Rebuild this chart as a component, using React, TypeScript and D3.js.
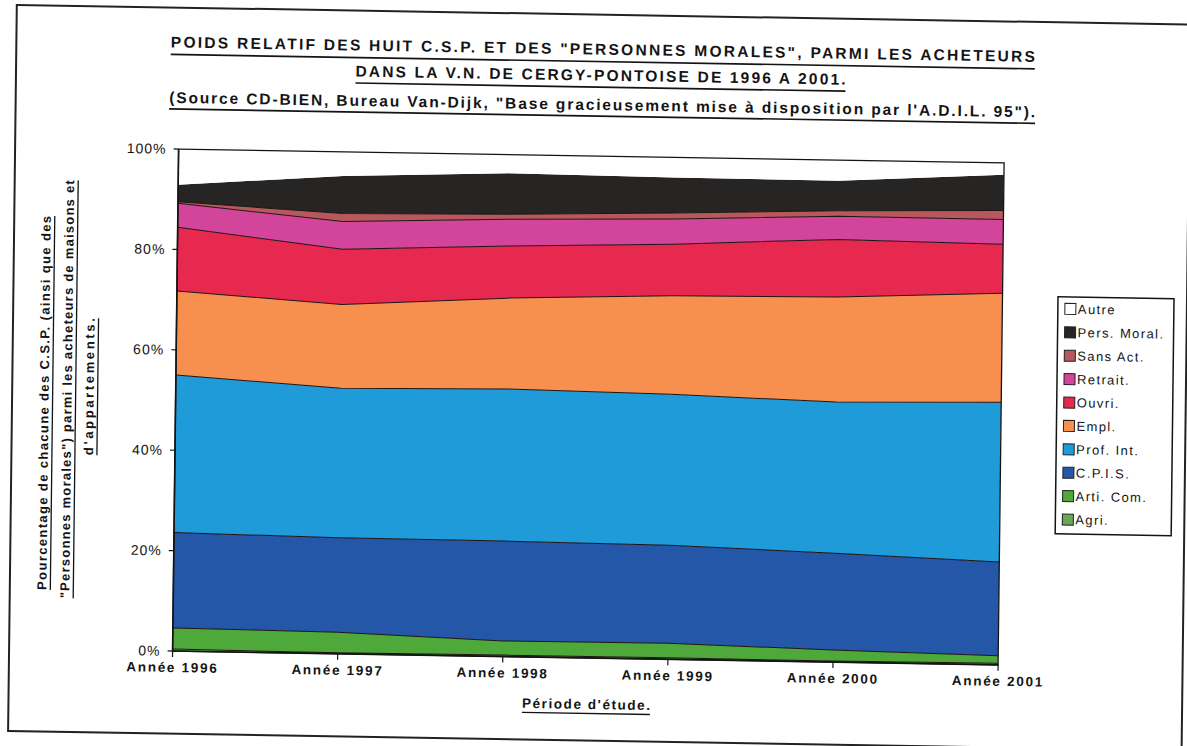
import React from "react";
import * as d3 from "d3";

const years = ["Année 1996", "Année 1997", "Année 1998", "Année 1999", "Année 2000", "Année 2001"];

const agri = [0.4, 0.2, 0.3, 0.3, 0.2, 0.3];
const artiCom = [4.2, 4.1, 2.8, 2.9, 2.2, 1.5];
const cpis = [19.0, 18.8, 19.9, 19.5, 19.3, 18.7];
const profInt = [31.4, 29.8, 30.3, 30.1, 30.1, 31.8];
const empl = [16.7, 16.7, 18.1, 19.6, 20.9, 21.7];
const ouvri = [12.7, 11.0, 10.4, 10.3, 11.5, 9.8];
const retrait = [4.8, 5.5, 5.3, 5.0, 4.6, 4.9];
const sansAct = [0.3, 1.6, 1.0, 1.2, 1.1, 1.8];
const persMoral = [3.4, 7.5, 8.2, 7.1, 6.0, 7.1];
const autre = [7.1, 4.8, 3.7, 4.0, 4.1, 2.4];

const seriesNames = ["Agri.", "Arti. Com.", "C.P.I.S.", "Prof. Int.", "Empl.", "Ouvri.", "Retrait.", "Sans Act.", "Pers. Moral.", "Autre"];
const seriesValues = [agri, artiCom, cpis, profInt, empl, ouvri, retrait, sansAct, persMoral, autre];
const seriesColors = ["#68a853", "#4fa83a", "#2457a8", "#1f9bda", "#f78f4e", "#e8294f", "#d3449b", "#b8585c", "#272424", "#ffffff"];

const yTicks = [0, 20, 40, 60, 80, 100];

const titleLines = [
  'POIDS RELATIF DES HUIT C.S.P. ET DES "PERSONNES MORALES", PARMI LES ACHETEURS',
  "DANS LA V.N. DE CERGY-PONTOISE DE 1996 A 2001.",
  '(Source CD-BIEN, Bureau Van-Dijk, "Base gracieusement mise à disposition par l\'A.D.I.L. 95").',
];
const yTitleLines = [
  "Pourcentage de chacune des C.S.P. (ainsi que des",
  '"Personnes morales") parmi les acheteurs de maisons et',
  "d'appartements.",
];
const xTitle = "Période d'étude.";

const FONT = "'Liberation Sans', Arial, Helvetica, sans-serif";
const INK = "#141414";

export default function App() {
  const W = 1187;
  const H = 746;
  const x0 = 176, x1 = 1001.5, yTop = 156, yBot = 658;

  const x = d3.scalePoint<string>().domain(years).range([x0, x1]).padding(0);
  const y = d3.scaleLinear().domain([0, 100]).range([yBot, yTop]);

  const rows = years.map((yr, i) => {
    const r: any = { year: yr };
    seriesNames.forEach((n, j) => (r[n] = seriesValues[j][i]));
    return r;
  });
  const stacked = d3.stack<any>().keys(seriesNames)(rows);
  const area = d3
    .area<any>()
    .x((d) => x(d.data.year) as number)
    .y0((d) => y(d[0]))
    .y1((d) => y(d[1]));
  const topLine = d3
    .line<any>()
    .x((d) => x(d.data.year) as number)
    .y((d) => y(d[1]));

  const titleMeta = [
    { cx: 599, base: 54.5, ul: 61.5, w: 864 },
    { cx: 597, base: 80.5, ul: 87, w: 490 },
    { cx: 599, base: 110, ul: 116, w: 866 },
  ];
  const yTitleMeta = [
    { bx: 49, cy: 412, w: 374 },
    { bx: 72, cy: 398, w: 418 },
    { bx: 94, cy: 395, w: 137 },
  ];

  const legendX = 1057, legendY = 289, legendW = 116, legendH = 237;
  const legendItems = seriesNames.map((n, i) => ({ name: n, color: seriesColors[i] })).reverse();

  return (
    <svg
      width={W}
      height={H}
      style={{ position: "absolute", left: 0, top: 0, display: "block", background: "#fff" }}
      fontFamily={FONT}
    >
      <g transform="matrix(1,0.0167,-0.012,1,4.48,-9.9)">
        {/* outer frame */}
        <rect x={12.5} y={14.6} width={1173.5} height={726} fill="none" stroke="#222" strokeWidth={2} />

        {/* titles */}
        {titleLines.map((t, i) => {
          const m = titleMeta[i];
          return (
            <g key={"t" + i}>
              <text
                x={m.cx}
                y={m.base}
                textAnchor="middle"
                fontSize={15.5}
                fontWeight="bold"
                fill={INK}
                textLength={m.w}
                lengthAdjust="spacing"
              >
                {t}
              </text>
              <line x1={m.cx - m.w / 2} x2={m.cx + m.w / 2} y1={m.ul} y2={m.ul} stroke={INK} strokeWidth={1.7} />
            </g>
          );
        })}

        {/* stacked areas */}
        <defs>
          <clipPath id="plotclip">
            <rect x={x0} y={yTop} width={x1 - x0} height={yBot - yTop} />
          </clipPath>
        </defs>
        <g clipPath="url(#plotclip)">
          {stacked.map((s, i) => (
            <path key={"a" + i} d={area(s) as string} fill={seriesColors[i]} stroke="none" />
          ))}
          {stacked.slice(0, 8).map((s, i) => (
            <path key={"l" + i} d={topLine(s) as string} fill="none" stroke="#1e1414" strokeWidth={1} />
          ))}
        </g>

        {/* plot border */}
        <rect x={x0} y={yTop} width={x1 - x0} height={yBot - yTop} fill="none" stroke={INK} strokeWidth={1.3} />

        {/* y axis */}
        <line x1={x0} x2={x0} y1={yTop} y2={yBot} stroke={INK} strokeWidth={1.6} />
        {yTicks.map((t) => (
          <g key={"yt" + t}>
            <line x1={x0 - 5} x2={x0} y1={y(t)} y2={y(t)} stroke={INK} strokeWidth={1.2} />
            <text
              x={x0 - 12}
              y={y(t)}
              dy="0.35em"
              textAnchor="end"
              fontSize={14}
              letterSpacing={1}
              fill={INK}
            >
              {t + "%"}
            </text>
          </g>
        ))}

        {/* x axis */}
        <line x1={x0} x2={x1} y1={yBot} y2={yBot} stroke={INK} strokeWidth={1.6} />
        {years.map((yr) => (
          <g key={"xt" + yr}>
            <line x1={x(yr) as number} x2={x(yr) as number} y1={yBot} y2={yBot + 6} stroke={INK} strokeWidth={1.2} />
            <text
              x={x(yr) as number}
              y={yBot + 21}
              textAnchor="middle"
              fontSize={13.5}
              fontWeight="bold"
              letterSpacing={1.7}
              fill={INK}
            >
              {yr}
            </text>
          </g>
        ))}

        {/* x title */}
        <text x={590} y={709} textAnchor="middle" fontSize={13.5} fontWeight="bold" fill={INK} textLength={128} lengthAdjust="spacing">
          {xTitle}
        </text>
        <line x1={526} x2={654} y1={713.5} y2={713.5} stroke={INK} strokeWidth={1.4} />

        {/* y title */}
        {yTitleLines.map((t, i) => {
          const m = yTitleMeta[i];
          return (
            <g key={"yt" + i} transform={`translate(${m.bx},${m.cy}) rotate(-90)`}>
              <text
                x={0}
                y={0}
                textAnchor="middle"
                fontSize={13}
                fontWeight="bold"
                fill={INK}
                textLength={m.w}
                lengthAdjust="spacing"
              >
                {t}
              </text>
              <line x1={-m.w / 2} x2={m.w / 2} y1={4} y2={4} stroke={INK} strokeWidth={1.3} />
            </g>
          );
        })}

        {/* legend */}
        <rect x={legendX} y={legendY} width={legendW} height={legendH} fill="#fff" stroke={INK} strokeWidth={1.5} />
        {legendItems.map((it, i) => {
          const cy = legendY + 12 + i * 23.4;
          return (
            <g key={"lg" + i}>
              <rect x={legendX + 7} y={cy - 5.5} width={11} height={11} fill={it.color} stroke="#222" strokeWidth={1} />
              <text x={legendX + 20} y={cy} dy="0.36em" fontSize={13} letterSpacing={1.4} fill={INK}>
                {it.name}
              </text>
            </g>
          );
        })}
      </g>
    </svg>
  );
}
